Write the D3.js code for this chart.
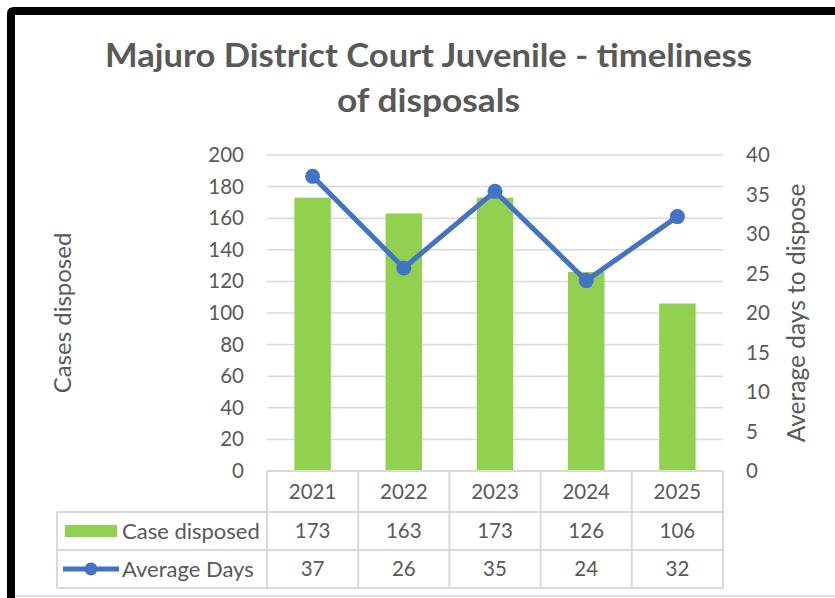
<!DOCTYPE html>
<html>
<head>
<meta charset="utf-8">
<script src="https://cdn.jsdelivr.net/npm/d3@7"></script>
<style>
  body { margin: 0; background: #fff; }
  svg text { font-family: Lato, "Open Sans", sans-serif; fill: #595959; }
</style>
</head>
<body>
<div id="chart"></div>
<script>
// data
const years = ["2021", "2022", "2023", "2024", "2025"]
const casesDisposed = [173, 163, 173, 126, 106]
const averageDays = [37.3, 25.7, 35.4, 24.1, 32.2]
const leftTicks = [0, 20, 40, 60, 80, 100, 120, 140, 160, 180, 200]
const rightTicks = [0, 5, 10, 15, 20, 25, 30, 35, 40]

const W = 835, H = 598
const plot = { left: 267, right: 723, top: 155, bottom: 471 }
const grey = "#d9d9d9"
const barColor = "#92d050"
const lineColor = "#4472c4"

const svg = d3.select("#chart").append("svg")
  .attr("width", W)
  .attr("height", H)

// outer frame: black on top and left, faint grey at bottom
svg.append("line").attr("x1", 14).attr("x2", W).attr("y1", 596).attr("y2", 596)
  .attr("stroke", "#e0e0e0").attr("stroke-width", 2)
svg.append("path")
  .attr("d", `M11,${H} V14 Q11,11 14,11 H${W}`)
  .attr("fill", "none").attr("stroke", "#000").attr("stroke-width", 8)

// title
const title = svg.append("g").attr("font-weight", "bold").attr("font-size", 32)
title.append("text").attr("x", 428.5).attr("y", 67).attr("text-anchor", "middle")
  .attr("textLength", 647).attr("lengthAdjust", "spacingAndGlyphs")
  .text("Majuro District Court Juvenile - timeliness")
title.append("text").attr("x", 428.5).attr("y", 112).attr("text-anchor", "middle")
  .attr("textLength", 183).attr("lengthAdjust", "spacingAndGlyphs")
  .text("of disposals")

// scales
const x = d3.scaleBand().domain(years).range([plot.left, plot.right])
  .paddingInner(0.6).paddingOuter(0.3)
const xCell = d3.scaleBand().domain(years).range([plot.left, plot.right])
const yLeft = d3.scaleLinear().domain([0, 200]).range([plot.bottom, plot.top])
const yRight = d3.scaleLinear().domain([0, 40]).range([plot.bottom, plot.top])

// gridlines
svg.append("g").selectAll("line").data(leftTicks.filter(d => d > 0)).join("line")
  .attr("x1", plot.left).attr("x2", plot.right)
  .attr("y1", d => yLeft(d)).attr("y2", d => yLeft(d))
  .attr("stroke", grey).attr("stroke-width", 1.5)

// left axis
const gl = svg.append("g").attr("transform", "translate(244,0)")
  .call(d3.axisLeft(yLeft).tickValues(leftTicks).tickSize(0).tickPadding(0))
gl.select(".domain").remove()
gl.selectAll("text").attr("font-size", 20.5).attr("fill", "#595959")
  .attr("font-family", "Lato, 'Open Sans', sans-serif")

// right axis
const gr = svg.append("g").attr("transform", "translate(746,0)")
  .call(d3.axisRight(yRight).tickValues(rightTicks).tickSize(0).tickPadding(0))
gr.select(".domain").remove()
gr.selectAll("text").attr("font-size", 20.5).attr("fill", "#595959")
  .attr("font-family", "Lato, 'Open Sans', sans-serif")

// axis titles
const midY = (plot.top + plot.bottom) / 2
svg.append("text").attr("transform", `translate(71,${midY}) rotate(-90)`)
  .attr("text-anchor", "middle").attr("font-size", 24)
  .text("Cases disposed")
svg.append("text").attr("transform", `translate(805,${midY}) rotate(-90)`)
  .attr("text-anchor", "middle").attr("font-size", 24.5)
  .text("Average days to dispose")

// bars
svg.append("g").selectAll("rect").data(years).join("rect")
  .attr("x", d => x(d))
  .attr("width", x.bandwidth())
  .attr("y", (d, i) => yLeft(casesDisposed[i]))
  .attr("height", (d, i) => yLeft(0) - yLeft(casesDisposed[i]))
  .attr("fill", barColor)

// line + markers
const cx = d => x(d) + x.bandwidth() / 2
const line = d3.line().x(d => cx(d[0])).y(d => yRight(d[1]))
const pts = years.map((d, i) => [d, averageDays[i]])
svg.append("path").datum(pts)
  .attr("d", line)
  .attr("fill", "none").attr("stroke", lineColor).attr("stroke-width", 5)
  .attr("stroke-linejoin", "round")
svg.append("g").selectAll("circle").data(pts).join("circle")
  .attr("cx", d => cx(d[0])).attr("cy", d => yRight(d[1]))
  .attr("r", 7.5).attr("fill", lineColor)

// data table
const rows = { header: [471, 512], cases: [512, 550], days: [550, 588] }
const tableLeft = 57
const table = svg.append("g").attr("stroke", grey).attr("stroke-width", 2)
// horizontal lines
table.append("line").attr("x1", plot.left).attr("x2", plot.right)
  .attr("y1", rows.header[0]).attr("y2", rows.header[0])
;[rows.cases[0], rows.days[0], rows.days[1]].forEach(y => {
  table.append("line").attr("x1", tableLeft).attr("x2", plot.right).attr("y1", y).attr("y2", y)
})
// vertical lines
table.append("line").attr("x1", tableLeft).attr("x2", tableLeft)
  .attr("y1", rows.cases[0]).attr("y2", rows.days[1])
years.concat(null).forEach((d, i) => {
  const xx = d ? xCell(d) : plot.right
  table.append("line").attr("x1", xx).attr("x2", xx)
    .attr("y1", rows.header[0]).attr("y2", rows.days[1])
})

const fmt = d3.format(".0f")
const cellText = (vals, row) => svg.append("g").selectAll("text").data(years).join("text")
  .attr("x", d => xCell(d) + xCell.bandwidth() / 2)
  .attr("y", (row[0] + row[1]) / 2)
  .attr("dy", "0.35em")
  .attr("text-anchor", "middle").attr("font-size", 20.5)
  .text((d, i) => vals ? fmt(vals[i]) : d)
cellText(null, rows.header)
cellText(casesDisposed, rows.cases)
cellText(averageDays, rows.days)

// legend keys inside the table
const rowMid = r => (r[0] + r[1]) / 2
svg.append("rect").attr("x", 65).attr("y", rowMid(rows.cases) - 6)
  .attr("width", 52).attr("height", 12).attr("fill", barColor)
svg.append("line").attr("x1", 63).attr("x2", 119)
  .attr("y1", rowMid(rows.days)).attr("y2", rowMid(rows.days))
  .attr("stroke", lineColor).attr("stroke-width", 5)
svg.append("circle").attr("cx", 91).attr("cy", rowMid(rows.days)).attr("r", 6.5)
  .attr("fill", lineColor)
svg.append("text").attr("x", 122).attr("y", rowMid(rows.cases)).attr("dy", "0.35em")
  .attr("font-size", 22).text("Case disposed")
svg.append("text").attr("x", 122).attr("y", rowMid(rows.days)).attr("dy", "0.35em")
  .attr("font-size", 22).text("Average Days")
</script>
</body>
</html>
